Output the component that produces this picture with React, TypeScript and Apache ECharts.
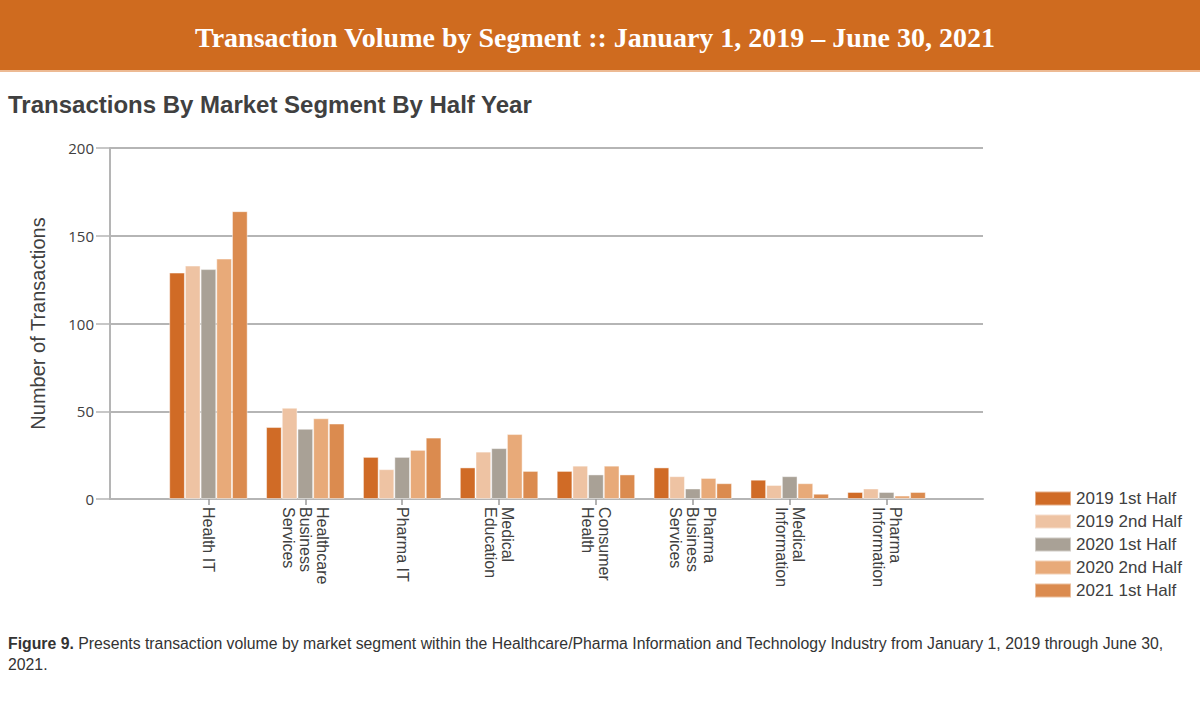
import React, { useEffect, useRef } from "react";
import * as echarts from "echarts";

const categories = [
  "Health IT",
  "Healthcare\nBusiness\nServices",
  "Pharma IT",
  "Medical\nEducation",
  "Consumer\nHealth",
  "Pharma\nBusiness\nServices",
  "Medical\nInformation",
  "Pharma\nInformation",
];
const seriesNames = ["2019 1st Half", "2019 2nd Half", "2020 1st Half", "2020 2nd Half", "2021 1st Half"];
const h2019a = [129, 41, 24, 18, 16, 18, 11, 4];
const h2019b = [133, 52, 17, 27, 19, 13, 8, 6];
const h2020a = [131, 40, 24, 29, 14, 6, 13, 4];
const h2020b = [137, 46, 28, 37, 19, 12, 9, 2];
const h2021a = [164, 43, 35, 16, 14, 9, 3, 4];
const seriesValues = [h2019a, h2019b, h2020a, h2020b, h2021a];
const seriesColors = ["#D06B26", "#EEC3A3", "#A9A196", "#E8AA79", "#DB8B4F"];
const yTicks = [0, 50, 100, 150, 200];

const TEXT = "#404040";
const GRID = "#B5B5B5";

export default function App() {
  const ref = useRef<HTMLDivElement>(null);
  useEffect(() => {
    if (!ref.current) return;
    const chart = echarts.init(ref.current, null, { renderer: "svg" });
    chart.setOption({
      animation: false,
      backgroundColor: "#ffffff",
      textStyle: { fontFamily: "Liberation Sans" },
      grid: [
        { left: 110, top: 148, width: 873, height: 351 },
        { left: 160, top: 148, width: 775, height: 351 },
      ],
      xAxis: [
        {
          gridIndex: 0,
          type: "category",
          data: [""],
          axisLine: { show: true, lineStyle: { color: GRID, width: 2 } },
          axisTick: { show: false },
          axisLabel: { show: false },
          splitLine: { show: false },
        },
        {
          gridIndex: 1,
          type: "category",
          data: categories,
          axisLine: { show: false },
          axisTick: { show: true, alignWithLabel: true, length: 6, lineStyle: { color: "#9A9A9A", width: 1.5 } },
          axisLabel: {
            rotate: -90,
            margin: 8,
            interval: 0,
            color: TEXT,
            fontSize: 16,
            lineHeight: 17,
            fontFamily: "Liberation Sans",
          },
        },
      ],
      yAxis: [
        {
          gridIndex: 0,
          type: "value",
          min: 0,
          max: 200,
          interval: 50,
          name: "Number of Transactions",
          nameLocation: "middle",
          nameGap: 62,
          nameTextStyle: { color: TEXT, fontSize: 20, fontFamily: "Liberation Sans" },
          axisLine: { show: true, lineStyle: { color: GRID, width: 2 } },
          axisTick: { show: true, length: 14, lineStyle: { color: GRID, width: 1.5 } },
          axisLabel: {
            color: TEXT,
            fontSize: 15,
            margin: 16,
            fontFamily: "Open Sans",
            formatter: (v: number) => (yTicks.includes(v) ? String(v) : ""),
          },
          splitLine: { show: true, lineStyle: { color: GRID, width: 2 } },
        },
        {
          gridIndex: 1,
          type: "value",
          min: 0,
          max: 200,
          interval: 50,
          show: false,
          splitLine: { show: false },
        },
      ],
      legend: {
        orient: "vertical",
        left: 1034,
        top: 490,
        padding: 0,
        itemWidth: 36,
        itemHeight: 14,
        itemGap: 6,
        icon: "rect",
        data: seriesNames,
        textStyle: { color: TEXT, fontSize: 17, fontFamily: "Liberation Sans" },
      },
      series: seriesNames.map((name, i) => ({
        name,
        type: "bar",
        xAxisIndex: 1,
        yAxisIndex: 1,
        data: seriesValues[i],
        barGap: "0%",
        barCategoryGap: "19%",
        itemStyle: { color: seriesColors[i], borderColor: "rgba(255,255,255,0.45)", borderWidth: 1 },
      })),
      graphic: [
        { type: "rect", left: 0, top: 0, shape: { width: 1200, height: 70 }, style: { fill: "#CF6B1F" }, z: 0 },
        { type: "rect", left: 0, top: 70, shape: { width: 1200, height: 2 }, style: { fill: "#EDBA93" }, z: 0 },
        {
          type: "text",
          x: 595,
          y: 37,
          style: {
            text: "Transaction Volume by Segment :: January 1, 2019 \u2013 June 30, 2021",
            fill: "#ffffff",
            font: "bold 28px 'Liberation Serif'",
            align: "center",
            verticalAlign: "middle",
          },
          z: 1,
        },
        {
          type: "text",
          x: 8,
          y: 104,
          style: {
            text: "Transactions By Market Segment By Half Year",
            fill: TEXT,
            font: "bold 24px 'Liberation Sans'",
            align: "left",
            verticalAlign: "middle",
          },
        },
        {
          type: "text",
          x: 8,
          y: 643,
          style: {
            text: "{b|Figure 9.} Presents transaction volume by market segment within the Healthcare/Pharma Information and Technology Industry from January 1, 2019 through June 30,",
            fill: "#333333",
            font: "15.8px 'Liberation Sans'",
            align: "left",
            verticalAlign: "middle",
            rich: {
              b: { fontWeight: "bold", fontSize: 15.8, fontFamily: "Liberation Sans", fill: "#333333" },
            },
          },
        },
        {
          type: "text",
          x: 8,
          y: 664,
          style: {
            text: "2021.",
            fill: "#333333",
            font: "15.8px 'Liberation Sans'",
            align: "left",
            verticalAlign: "middle",
          },
        },
      ],
    });
    return () => chart.dispose();
  }, []);
  return <div ref={ref} style={{ position: "fixed", left: 0, top: 0, width: 1200, height: 727 }} />;
}
